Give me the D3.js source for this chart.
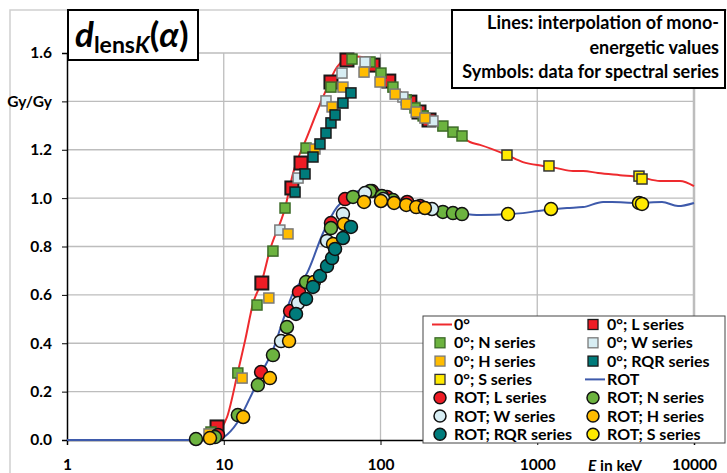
<!DOCTYPE html>
<html>
<head>
<meta charset="utf-8">
<script src="https://cdn.jsdelivr.net/npm/d3@7"></script>
<style>
  body { margin: 0; background: #fff; }
  svg text { font-family: Lato, "Open Sans", sans-serif; font-weight: bold; fill: #000; }
</style>
</head>
<body>
<div class="chart"></div>
<script>
// interpolation lines [E keV, dose ratio]
var line0 = [[8.5,0],[9.5,0.04],[10.5,0.095],[12.3,0.28],[13.7,0.413],[15.4,0.566],[17.5,0.657],[19.7,0.785],[24.6,0.959],[27.7,1.104],[34,1.253],[43,1.418],[52.8,1.542],[66.8,1.587],[82,1.58],[99,1.52],[154,1.406],[198,1.344],[321,1.261],[372,1.232],[431,1.22],[641,1.178],[810,1.149],[1088,1.133],[1330,1.124],[1690,1.112],[1960,1.112],[2443,1.104],[3373,1.095],[4525,1.087],[6070,1.071],[8143,1.071],[10000,1.05]];
var lineRot = [[1,0],[9.5,0],[9.9,0.008],[12.15,0.07],[14.7,0.174],[17.8,0.289],[20.6,0.372],[23.9,0.496],[27.7,0.608],[34,0.69],[43,0.856],[52.8,0.963],[61.1,1.0],[74,1.033],[89.6,1.042],[115,1.013],[150,0.98],[200,0.955],[300,0.94],[431,0.93],[810,0.938],[1011,0.947],[1549,0.959],[1960,0.963],[2630,0.984],[3000,0.984],[4326,0.98],[6250,0.984],[7906,0.967],[10000,0.98]];

// spectral series, 0 degree (squares)
var sqL = [[9.06,0.054],[17.5,0.649],[27.2,1.042],[31.1,1.145],[48.3,1.48],[61.1,1.571],[89.6,1.55],[113,1.484],[154,1.397],[176,1.356],[204,1.323]];
var sqN = [[8.29,0.033],[12.3,0.277],[16.3,0.558],[20.6,0.781],[24.6,0.959],[33.5,1.207],[48.3,1.459],[65.8,1.575],[85.7,1.563],[100.7,1.517],[120,1.459],[146,1.406],[166,1.373],[187,1.34],[250,1.298],[290,1.273],[331,1.257]];
var sqW = [[22.8,0.868],[29.8,1.083],[44.9,1.402],[56.8,1.517],[79.7,1.563],[139,1.418],[216,1.319]];
var sqH = [[8.05,0.025],[13.1,0.256],[19.4,0.587],[25.7,0.852],[38.2,1.203],[49.1,1.377],[57.6,1.459],[78.5,1.521],[99.3,1.48],[124,1.43],[146,1.389],[169,1.356],[192,1.331]];
var sqRQR = [[28.5,1.025],[33.0,1.1],[37.1,1.17],[41.1,1.224],[44.9,1.269],[48.3,1.311],[51.3,1.344],[57.6,1.393],[64.8,1.435]];
var sqS = [[641,1.178],[1188,1.133],[4457,1.091],[4660,1.079]];

// spectral series, ROT (circles)
var ciL = [[9.19,0.021],[17.3,0.281],[26.5,0.533],[30.2,0.612],[48.3,0.897],[59.4,0.996],[88.3,1.029],[110,1.005],[148,0.984],[179,0.967]];
var ciN = [[6.65,0.004],[8.79,0.012],[12.3,0.103],[16.5,0.227],[20.6,0.351],[25.3,0.467],[33.5,0.653],[48.3,0.876],[66.8,1.005],[85.7,1.029],[102,1.009],[120,0.992],[250,0.943],[290,0.938],[331,0.934]];
var ciW = [[23.2,0.409],[29.8,0.566],[45.6,0.823],[57.6,0.934],[79.7,1.021],[104,0.996],[213,0.955]];
var ciH = [[8.17,0.008],[13.3,0.095],[19.7,0.256],[26.1,0.409],[37.6,0.653],[49.8,0.81],[58.5,0.893],[78.5,0.984],[100.7,0.988],[122,0.98],[146,0.972],[169,0.963],[192,0.959]];
var ciRQR = [[28.9,0.521],[33.5,0.583],[37.1,0.633],[41.1,0.678],[45.6,0.719],[49.1,0.752],[51.3,0.79],[57.6,0.835],[64.8,0.881]];
var ciS = [[651,0.934],[1224,0.955],[4457,0.98],[4660,0.976]];

var xTicks = [1, 10, 100, 1000, 10000];
var yTicks = [0, 0.2, 0.4, 0.6, 0.8, 1.0, 1.2, 1.4, 1.6];

var svg = d3.select(".chart").append("svg")
	.attr("width", 727)
	.attr("height", 473);

var x = d3.scaleLog().domain([1, 10000]).range([67, 694]);
var y = d3.scaleLinear().domain([0, 1.6]).range([440, 53]);

// chart area border
svg.append("path")
	.attr("d", "M10,473V10H727")
	.attr("fill", "none")
	.attr("stroke", "#d0d0d0")
	.attr("stroke-width", 1.5);

// grid
svg.selectAll(".hgrid")
	.data(yTicks.slice(1))
	.enter().append("line")
	.attr("x1", 67).attr("x2", 694)
	.attr("y1", function(d){ return y(d); })
	.attr("y2", function(d){ return y(d); })
	.attr("stroke", "#bdbdbd")
	.attr("stroke-width", 1.3);

svg.selectAll(".vgrid")
	.data(xTicks.slice(1))
	.enter().append("line")
	.attr("x1", function(d){ return x(d); })
	.attr("x2", function(d){ return x(d); })
	.attr("y1", 53).attr("y2", 440)
	.attr("stroke", "#bdbdbd")
	.attr("stroke-width", function(d){ return d == 10000 ? 2.5 : 1.3; });

// axes
var yAxis = d3.axisLeft(y).tickValues(yTicks).tickSize(5).tickFormat(function(d){ return d == 1.4 ? "Gy/Gy" : d3.format(".1f")(d); });
svg.append("g")
	.attr("transform", "translate(67,0)")
	.call(yAxis)
	.call(function(g){
		g.select(".domain").attr("stroke", "#000").attr("stroke-width", 1.5);
		g.selectAll("text").style("font-size", "15.5px").attr("x", -15).attr("font-family", null);
	});

var xAxis = d3.axisBottom(x).tickValues(xTicks).tickSize(5).tickFormat(d3.format("d"));
svg.append("g")
	.attr("transform", "translate(0,440)")
	.call(xAxis)
	.call(function(g){
		g.select(".domain").attr("stroke", "#000").attr("stroke-width", 1.5);
		g.selectAll("text").style("font-size", "15.5px").attr("y", 19).attr("font-family", null);
	});

svg.append("text")
	.attr("x", 615).attr("y", 471)
	.attr("text-anchor", "middle")
	.style("font-size", "15.5px")
	.html('<tspan font-style="italic">E</tspan> in keV');

// lines
var lineGen = d3.line()
	.x(function(d){ return x(d[0]); })
	.y(function(d){ return y(d[1]); })
	.curve(d3.curveMonotoneX);

svg.append("path").datum(line0)
	.attr("d", lineGen)
	.attr("fill", "none")
	.attr("stroke", "#ee2a2e")
	.attr("stroke-width", 2);

svg.append("path").datum(lineRot)
	.attr("d", lineGen)
	.attr("fill", "none")
	.attr("stroke", "#3e5aab")
	.attr("stroke-width", 2);

// series styles
var squareSeries = [
	{ data: sqL, fill: "#ee1c25", stroke: "#1a1a1a", size: 13, name: "0°; L series" },
	{ data: sqN, fill: "#6cb33f", stroke: "#3d6b28", size: 10, name: "0°; N series" },
	{ data: sqW, fill: "#d7edf3", stroke: "#7a7a7a", size: 10, name: "0°; W series" },
	{ data: sqH, fill: "#ffbc00", stroke: "#7a7a7a", size: 10, name: "0°; H series" },
	{ data: sqRQR, fill: "#007b7b", stroke: "#1a1a1a", size: 10, name: "0°; RQR series" },
	{ data: sqS, fill: "#ffea00", stroke: "#333", size: 10, name: "0°; S series" }
];
var circleSeries = [
	{ data: ciL, fill: "#ee1c25", name: "ROT; L series" },
	{ data: ciN, fill: "#6cb33f", name: "ROT; N series" },
	{ data: ciW, fill: "#d7edf3", name: "ROT; W series" },
	{ data: ciH, fill: "#ffbc00", name: "ROT; H series" },
	{ data: ciRQR, fill: "#007b7b", name: "ROT; RQR series" },
	{ data: ciS, fill: "#ffea00", name: "ROT; S series" }
];

squareSeries.forEach(function(s){
	svg.append("g").selectAll("rect")
		.data(s.data)
		.enter().append("rect")
		.attr("x", function(d){ return x(d[0]) - s.size / 2; })
		.attr("y", function(d){ return y(d[1]) - s.size / 2; })
		.attr("width", s.size)
		.attr("height", s.size)
		.attr("fill", s.fill)
		.attr("stroke", s.stroke)
		.attr("stroke-width", s.size > 10 ? 2 : 1.5);
});

circleSeries.forEach(function(s){
	svg.append("g").selectAll("circle")
		.data(s.data)
		.enter().append("circle")
		.attr("cx", function(d){ return x(d[0]); })
		.attr("cy", function(d){ return y(d[1]); })
		.attr("r", 6.5)
		.attr("fill", s.fill)
		.attr("stroke", "#111")
		.attr("stroke-width", 1.5);
});

// title box
svg.append("rect")
	.attr("x", 68).attr("y", 10)
	.attr("width", 130).attr("height", 50)
	.attr("fill", "#fff")
	.attr("stroke", "#000")
	.attr("stroke-width", 2);

svg.append("text")
	.attr("x", 75).attr("y", 47)
	.style("font-size", "35px")
	.html('<tspan font-style="italic">d</tspan><tspan dy="6" style="font-size:23px">lens</tspan><tspan style="font-size:23px" font-style="italic">K</tspan><tspan dy="-6">(</tspan><tspan font-style="italic">α</tspan><tspan>)</tspan>');

// note box
svg.append("rect")
	.attr("x", 452).attr("y", 10)
	.attr("width", 273).attr("height", 78)
	.attr("fill", "#fff")
	.attr("stroke", "#000")
	.attr("stroke-width", 2);

var notes = ["Lines: interpolation of mono-", "energetic values", "Symbols: data for spectral series"];
svg.selectAll(".note")
	.data(notes)
	.enter().append("text")
	.attr("x", 719)
	.attr("y", function(d, i){ return 29 + i * 24.5; })
	.attr("text-anchor", "end")
	.style("font-size", "18px")
	.text(function(d){ return d; });

// legend
var legendItems = [
	{ type: "line", color: "#ee2a2e", name: "0°" },
	{ type: "sq", s: squareSeries[0] },
	{ type: "sq", s: squareSeries[1] },
	{ type: "sq", s: squareSeries[2] },
	{ type: "sq", s: squareSeries[3] },
	{ type: "sq", s: squareSeries[4] },
	{ type: "sq", s: squareSeries[5] },
	{ type: "line", color: "#3e5aab", name: "ROT" },
	{ type: "ci", s: circleSeries[0] },
	{ type: "ci", s: circleSeries[1] },
	{ type: "ci", s: circleSeries[2] },
	{ type: "ci", s: circleSeries[3] },
	{ type: "ci", s: circleSeries[4] },
	{ type: "ci", s: circleSeries[5] }
];

svg.append("rect")
	.attr("x", 423).attr("y", 316)
	.attr("width", 302).attr("height", 127)
	.attr("fill", "#fff")
	.attr("stroke", "#444")
	.attr("stroke-width", 1);

var legend = svg.selectAll(".legend")
	.data(legendItems)
	.enter().append("g")
	.attr("class", "legend")
	.attr("transform", function(d, i){
		return "translate(" + (i % 2 == 0 ? 440 : 593) + "," + (324.5 + Math.floor(i / 2) * 18.3) + ")";
	});

legend.each(function(d){
	var g = d3.select(this);
	if (d.type == "line") {
		g.append("line").attr("x1", -8).attr("x2", 12).attr("y1", 0).attr("y2", 0)
			.attr("stroke", d.color).attr("stroke-width", 2);
	} else if (d.type == "sq") {
		g.append("rect").attr("x", -5).attr("y", -5).attr("width", 10).attr("height", 10)
			.attr("fill", d.s.fill).attr("stroke", d.s.stroke).attr("stroke-width", 1.3);
	} else {
		g.append("circle").attr("r", 6).attr("fill", d.s.fill)
			.attr("stroke", "#111").attr("stroke-width", 1.5);
	}
	g.append("text")
		.attr("x", 14).attr("y", 5.5)
		.style("font-size", "16px")
		.text(d.type == "line" ? d.name : d.s.name);
});
</script>
</body>
</html>
